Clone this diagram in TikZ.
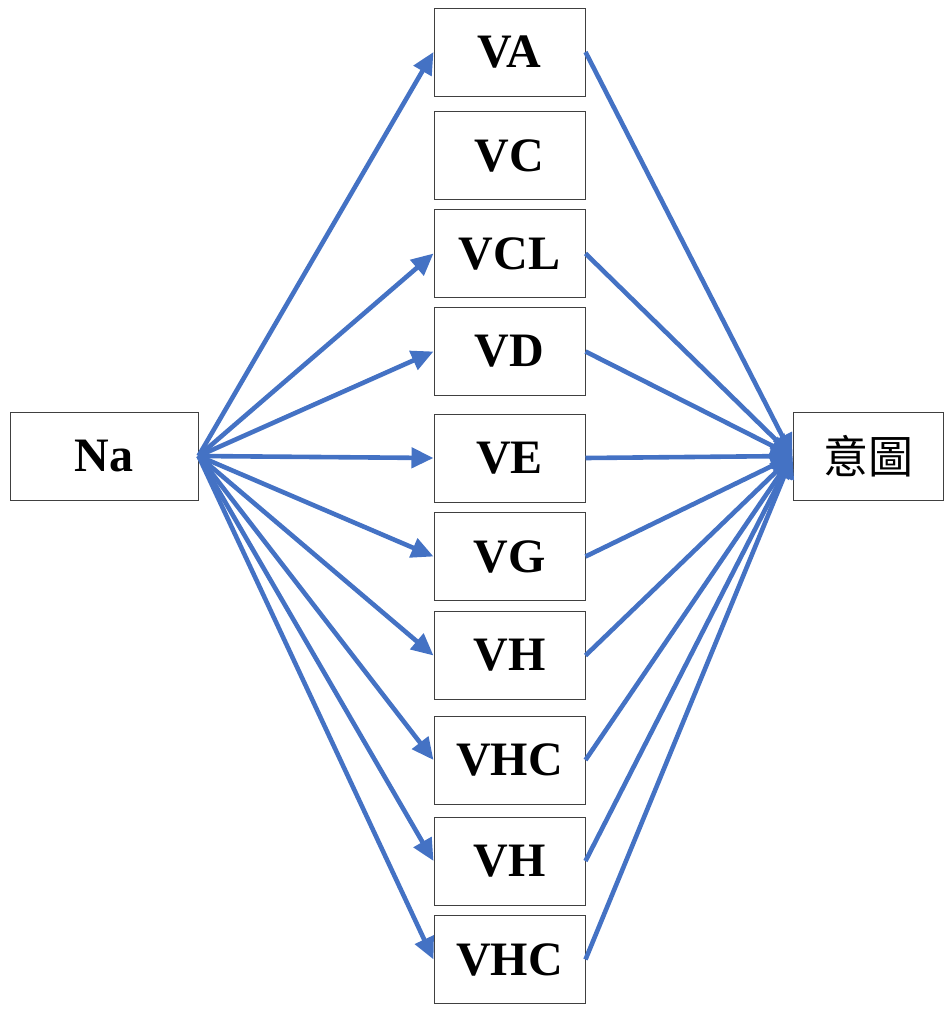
\documentclass[tikz,border=0pt]{standalone}
\usepackage{fontspec}
\setmainfont{Liberation Serif}
\newfontfamily\cjk{Noto Sans CJK TC}
\usetikzlibrary{arrows.meta}
\definecolor{arrowblue}{HTML}{4472C4}
\definecolor{boxgray}{HTML}{404040}
\begin{document}
\begin{tikzpicture}[x=1pt,y=-1pt,
  box/.style={draw=boxgray,line width=1pt,fill=white,minimum width=151pt,minimum height=88pt,inner sep=0pt,font=\fontsize{48}{48}\selectfont\bfseries},
  conn/.style={draw=arrowblue,line width=4.6pt,-{Triangle[length=22pt,width=20pt]}}
]
\useasboundingbox (0,0) rectangle (944,1012);
\node[box,minimum width=188pt] (na) at (104,456) {Na};
\node[box,minimum width=150pt,font=\fontsize{45}{45}\selectfont\cjk] (yt) at (868,456) {意圖};
\node[box] (va) at (509.5,52) {VA};
\node[box] (vc) at (509.5,155.5) {VC};
\node[box] (vcl) at (509.5,253.5) {VCL};
\node[box] (vd) at (509.5,351.5) {VD};
\node[box] (ve) at (509.5,458) {VE};
\node[box] (vg) at (509.5,556.5) {VG};
\node[box] (vh) at (509.5,655.5) {VH};
\node[box] (vhc) at (509.5,760) {VHC};
\node[box] (vhb) at (509.5,861) {VH};
\node[box] (vhcb) at (509.5,959.5) {VHC};
\foreach \n in {va,vcl,vd,ve,vg,vh,vhc,vhb,vhcb}{
  \draw[conn] (na.east) -- (\n.west);
  \draw[conn] (\n.east) -- (yt.west);
}
\end{tikzpicture}
\end{document}
